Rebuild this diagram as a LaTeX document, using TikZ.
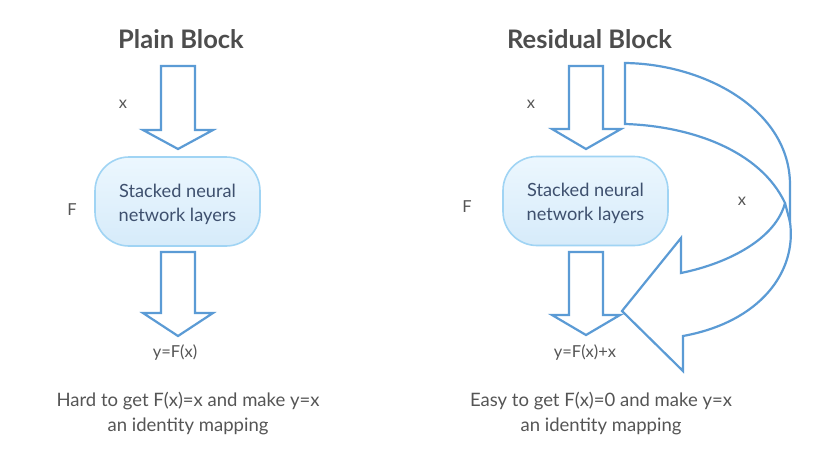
\documentclass[tikz,border=0pt]{standalone}
\usepackage{fontspec}
\setmainfont{Lato}
\definecolor{arrowblue}{RGB}{91,155,213}
\definecolor{boxedge}{RGB}{160,212,244}
\definecolor{boxtop}{RGB}{236,247,254}
\definecolor{boxbot}{RGB}{214,235,250}
\definecolor{boxtext}{RGB}{62,80,110}
\definecolor{labelgrey}{RGB}{85,85,85}
\definecolor{titlegrey}{RGB}{77,77,77}
\begin{document}
\begin{tikzpicture}[x=1pt,y=-1pt,
  blockarrow/.style={draw=arrowblue,line width=2.2pt,fill=white,line join=miter},
  layerbox/.style={draw=boxedge,line width=1.6pt,top color=boxtop,bottom color=boxbot,
     rounded corners=34pt,minimum width=165pt,minimum height=89pt,inner sep=0pt},
  boxlabel/.style={align=center,text=boxtext,font=\fontsize{18.2}{24}\selectfont,inner sep=0pt},
  lbl/.style={text=labelgrey,font=\fontsize{16.5}{20}\selectfont,inner sep=0pt},
  ttl/.style={text=titlegrey,font=\fontsize{25.5}{30}\selectfont\bfseries,inner sep=0pt},
  note/.style={text=labelgrey,font=\fontsize{18.5}{25}\selectfont,align=center,inner sep=0pt}]
\useasboundingbox (0,0) rectangle (830,464);
\fill[white] (0,0) rectangle (830,464);
% ---------- Plain block ----------
\node[ttl] (t1) at (181,39) {Plain Block};
\draw[blockarrow] (161,66) -- (195,66) -- (195,130) -- (213,130) -- (178,149) -- (143,130) -- (161,130) -- cycle;
\node[layerbox] (b1) at (177.5,201.5) {};
\node[boxlabel] (s1) at ([yshift=-2.5pt]b1.center) {Stacked neural\\network layers};
\draw[blockarrow] (161,252) -- (195,252) -- (195,313) -- (213,313) -- (178,336) -- (143,313) -- (161,313) -- cycle;
\node[lbl] (x1) at (123,104) {x};
\node[lbl] (f1) at (72,210) {F};
\node[lbl] (y1) at (175,353) {y=F(x)};
\node[note] (n1) at (188,414) {Hard to get F(x)=x and make y=x\\an identity mapping};
% ---------- Residual block ----------
\node[ttl] (t2) at (589.5,39) {Residual Block};
\draw[blockarrow] (569,66) -- (603,66) -- (603,129) -- (621,129) -- (586,149) -- (552,129) -- (569,129) -- cycle;
\node[layerbox] (b2) at (585.5,201) {};
\node[boxlabel] (s2) at ([yshift=-2.5pt]b2.center) {Stacked neural\\network layers};
\draw[blockarrow] (569,252) -- (603,252) -- (603,315) -- (620,315) -- (586,335) -- (552,315) -- (569,315) -- cycle;
\draw[blockarrow,fill=none]
  (625,124) -- (625,63) .. controls (705,64) and (790,110) .. (790,185) -- (790,222)
  .. controls (797,272) and (760,322) .. (683,336) -- (683,371) -- (622,311) -- (681,238) -- (681,273)
  .. controls (730,263) and (776,238) .. (785,203)
  .. controls (760,150) and (690,126) .. (625,124) -- cycle;
\draw[blockarrow,fill=none] (785,203) -- (790,222);
\node[lbl] (x2) at (531,104) {x};
\node[lbl] (f2) at (467,207) {F};
\node[lbl] (x3) at (742,201) {x};
\node[lbl] (y2) at (585,353) {y=F(x)+x};
\node[note] (n2) at (601,414) {Easy to get F(x)=0 and make y=x\\an identity mapping};
\end{tikzpicture}
\end{document}
